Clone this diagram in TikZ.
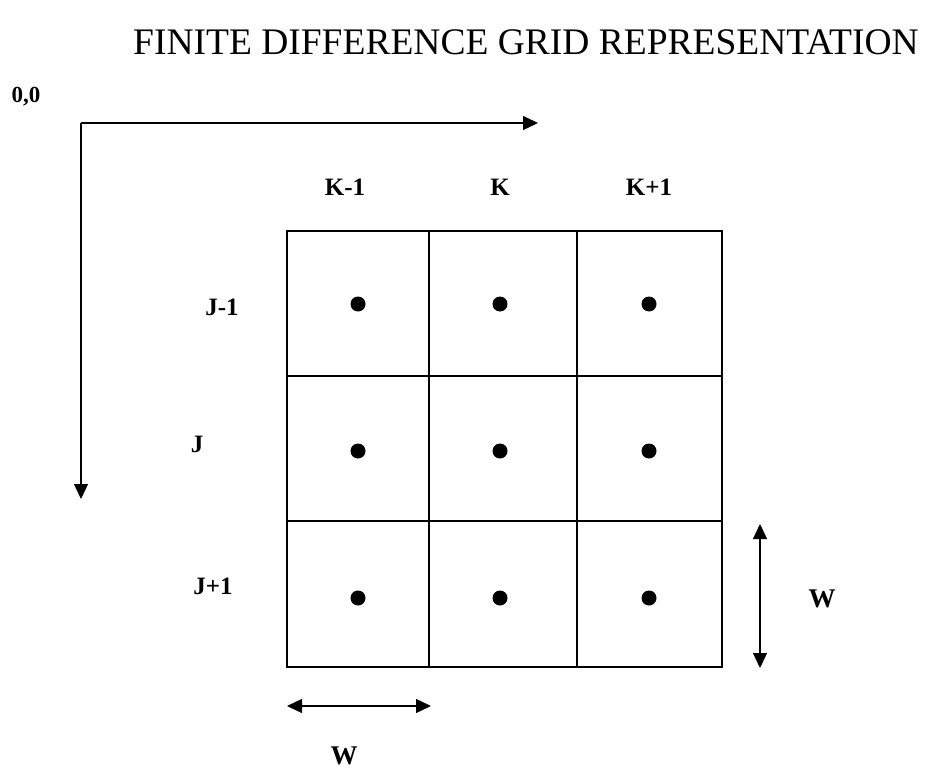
\documentclass[tikz,border=0pt]{standalone}
\usepackage{fontspec}
\setmainfont{Liberation Serif}
\usetikzlibrary{arrows.meta}
\begin{document}
\begin{tikzpicture}[x=1pt,y=-1pt,
  lbl/.style={font=\fontsize{25}{28}\selectfont\bfseries, inner sep=0pt},
  dot/.style={circle, fill=black, minimum size=15pt, inner sep=0pt},
  gridline/.style={line width=1.4pt},
  thickline/.style={line width=2.4pt},
  tip/.tip={Triangle[length=15pt,width=14pt]},
  arr/.style={line width=1.3pt, -tip},
  darr/.style={line width=1.3pt, tip-tip}]
\fill[white] (0,0) rectangle (931,778);
\useasboundingbox (0,0) rectangle (931,778);
% title
\node[font=\fontsize{37.5}{42}\selectfont, inner sep=0pt] (title) at (526,42) {FINITE DIFFERENCE GRID REPRESENTATION};
% origin
\node[font=\fontsize{23}{26}\selectfont\bfseries, inner sep=0pt] (origin) at (26,97) {0,0};
\coordinate (corner) at (81,123);
\coordinate (xend) at (538,123);
\coordinate (yend) at (81,499);
\draw[arr] (corner) -- (xend);
\draw[arr] (corner) -- (yend);
% column labels
\node[lbl] (km) at (345,187) {K-1};
\node[lbl] (k) at (500,187) {K};
\node[lbl] (kp) at (649,187) {K+1};
% row labels
\node[lbl] (jm) at (222,307) {J-1};
\node[lbl] (j) at (197,444) {J};
\node[lbl] (jp) at (213,586) {J+1};
% grid
\coordinate (g00) at (287,231);
\coordinate (g11) at (722,667);
\draw[gridline] (g00) rectangle (g11);
\draw[gridline] (429,231) -- (429,667);
\draw[gridline] (577,231) -- (577,667);
\draw[thickline] (287,376) -- (722,376);
\draw[thickline] (287,521) -- (722,521);
% dots
\node[dot] (d11) at (358,304) {};
\node[dot] (d12) at (500,304) {};
\node[dot] (d13) at (649,304) {};
\node[dot] (d21) at (358,451) {};
\node[dot] (d22) at (500,451) {};
\node[dot] (d23) at (649,451) {};
\node[dot] (d31) at (358,598) {};
\node[dot] (d32) at (500,598) {};
\node[dot] (d33) at (649,598) {};
% width arrows
\coordinate (ha) at (287,706);
\coordinate (hb) at (431,706);
\draw[darr] (ha) -- (hb);
\node[lbl, font=\fontsize{27}{30}\selectfont\bfseries] (wb) at (344,756) {W};
\coordinate (va) at (760,524);
\coordinate (vb) at (760,668);
\draw[darr] (va) -- (vb);
\node[lbl, font=\fontsize{27}{30}\selectfont\bfseries] (wr) at (822,599) {W};
\end{tikzpicture}
\end{document}
